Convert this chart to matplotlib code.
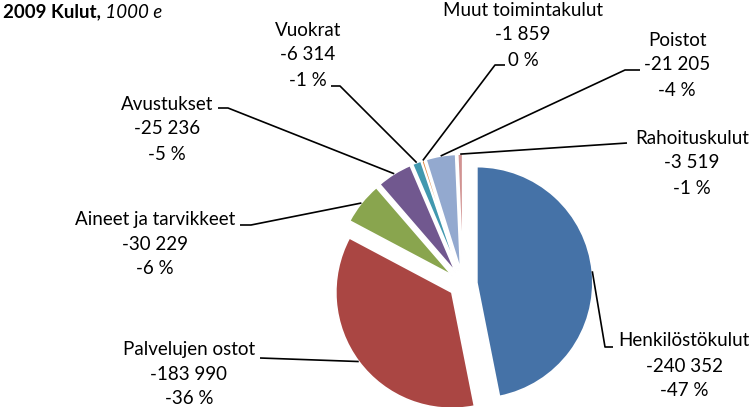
import numpy as np
import matplotlib
matplotlib.use("Agg")
import matplotlib.pyplot as plt

# ---- data ----
categories = ["Henkilöstökulut", "Palvelujen ostot", "Aineet ja tarvikkeet", "Avustukset",
              "Vuokrat", "Muut toimintakulut", "Poistot", "Rahoituskulut"]
values = [-240352, -183990, -30229, -25236, -6314, -1859, -21205, -3519]
colors = ["#4572A7", "#AA4643", "#89A54E", "#71588F", "#4198AF", "#DB843D", "#93A9CF", "#D19392"]
title_bold = "2009 Kulut,"
title_italic = " 1000 e"

# ---- layout (image pixel coords, y downward) ----
W, H = 755, 407
FONT = "Lato"
FS = 13.5
center_img = (463, 284)
radius = 116
explode_frac = 0.12

# label block: (center x, first-line y)
label_pos = [(684, 341), (189, 349), (155, 219), (167, 104),
             (308, 30), (523, 10), (677, 40), (692, 138)]
# leader elbow points (after the anchor on the slice)
leader_pts = [[(605, 347), (613, 347)],
              [(260, 358)],
              [(251, 225), (240, 225)],
              [(228, 108), (218, 108)],
              [(340, 86), (331, 86)],
              [(495, 65), (505, 65)],
              [(625, 70), (640, 70)],
              [(627, 143)]]
LINE_GAP = 25


def Y(y):
    return H - y


fig = plt.figure(figsize=(W / 100, H / 100), dpi=100)
ax = fig.add_axes([0, 0, 1, 1])

absvals = np.abs(np.array(values, dtype=float))
total = absvals.sum()
cx, cy = center_img[0], Y(center_img[1])

ax.pie(absvals, colors=colors, startangle=90, counterclock=False,
       center=(cx, cy), radius=radius,
       explode=[explode_frac * radius] * len(values),
       wedgeprops=dict(edgecolor="white", linewidth=1.2), frame=True)
ax.set_xlim(0, W)
ax.set_ylim(0, H)
ax.set_aspect("equal")
ax.axis("off")

cum = np.concatenate([[0], np.cumsum(absvals)[:-1]])


def fmt_num(v):
    s = f"{abs(int(v)):,}".replace(",", " ")
    return ("-" if v < 0 else "") + s


for i, (cat, v) in enumerate(zip(categories, values)):
    frac_mid = (cum[i] + absvals[i] / 2) / total
    ang = np.deg2rad(90 - 360 * frac_mid)
    ax_x = cx + radius * (1 + explode_frac) * np.cos(ang)
    ax_y = cy + radius * (1 + explode_frac) * np.sin(ang)
    xs = [ax_x] + [p[0] for p in leader_pts[i]]
    ys = [ax_y] + [Y(p[1]) for p in leader_pts[i]]
    ax.plot(xs, ys, color="black", lw=1.2, solid_capstyle="butt")
    pct = int(round(v / total * 100))
    pct_s = f"{pct} %" if pct != 0 else "0 %"
    lines = [cat, fmt_num(v), pct_s]
    lx, ly = label_pos[i]
    for k, t in enumerate(lines):
        ax.text(lx, Y(ly + k * LINE_GAP), t, ha="center", va="center",
                fontsize=FS, family=FONT, color="black")

t1 = ax.text(3, Y(12), title_bold, ha="left", va="center", fontsize=FS,
             family=FONT, fontweight="bold")
ax.annotate(title_italic, xy=(1, 0), xycoords=t1, va="bottom", ha="left",
            fontsize=FS, family=FONT, fontstyle="italic")

fig.savefig("out.png", dpi=100)
